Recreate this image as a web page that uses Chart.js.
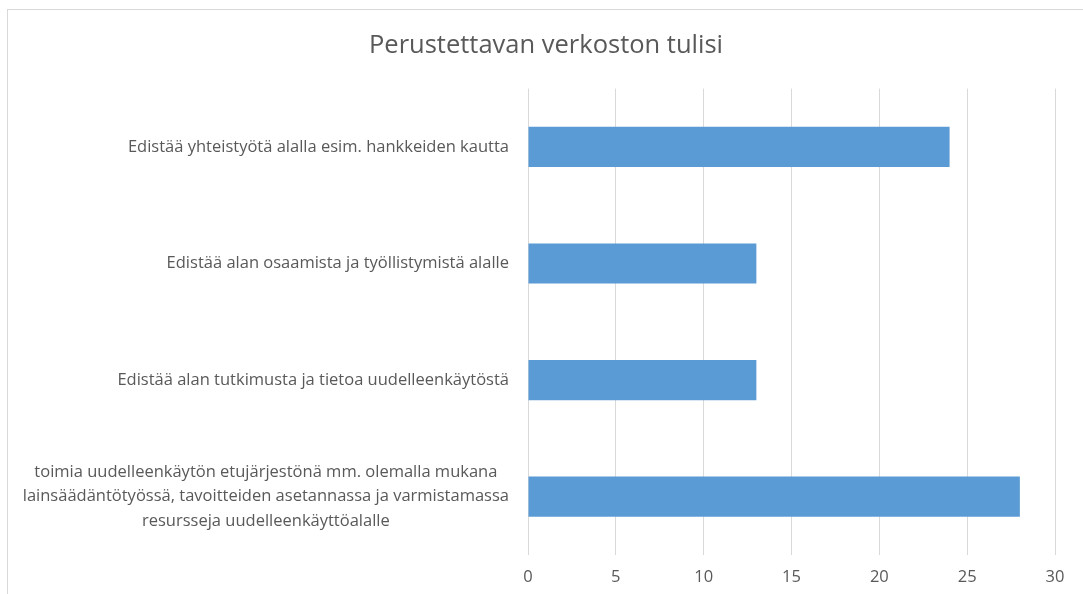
<!DOCTYPE html>
<html>
<head>
<meta charset="utf-8">
<script src="https://cdn.jsdelivr.net/npm/chart.js@4"></script>
<style>
  body { margin: 0; background: #fff; overflow: hidden; }
  #frame { position: absolute; left: 7px; top: 9px; width: 1100px; height: 600px; border: 1px solid #d9d9d9; }
  #wrap { position: absolute; left: 0; top: 0; width: 1083px; height: 594px; }
</style>
</head>
<body>
<div id="frame"></div>
<div id="wrap"><canvas id="chart"></canvas></div>
<script>
const titleText = "Perustettavan verkoston tulisi";
const categories = [
  ["Edistää yhteistyötä alalla esim. hankkeiden kautta"],
  ["Edistää alan osaamista ja työllistymistä alalle"],
  ["Edistää alan tutkimusta ja tietoa uudelleenkäytöstä"],
  ["toimia uudelleenkäytön etujärjestönä mm. olemalla mukana",
   "lainsäädäntötyössä, tavoitteiden asetannassa ja varmistamassa",
   "resursseja uudelleenkäyttöalalle"],
];
const values = [24, 13, 13, 28];
const xMin = 0;
const xMax = 30;
const xStep = 5;

const textColor = "#595959";
const fontFamily = "'Open Sans', sans-serif";

// draws the category labels: block right-aligned, lines centered inside it
const categoryLabels = {
  id: "categoryLabels",
  afterDraw(chart) {
    const ctx = chart.ctx;
    const yScale = chart.scales.y;
    const right = chart.chartArea.left - 19;
    ctx.save();
    ctx.font = "16.5px " + fontFamily;
    ctx.fillStyle = textColor;
    ctx.textAlign = "center";
    ctx.textBaseline = "middle";
    const lineH = 24.5;
    categories.forEach((lines, i) => {
      const y = yScale.getPixelForTick(i);
      const maxW = Math.max(...lines.map((l) => ctx.measureText(l).width));
      const cx = right - maxW / 2;
      const y0 = y - ((lines.length - 1) * lineH) / 2;
      lines.forEach((l, k) => ctx.fillText(l, cx, y0 + k * lineH));
    });
    ctx.restore();
  },
};

const ctx = document.getElementById("chart").getContext("2d");
new Chart(ctx, {
  type: "bar",
  data: {
    labels: categories,
    datasets: [
      {
        data: values,
        backgroundColor: "#5b9bd5",
        borderWidth: 0,
        categoryPercentage: 1,
        barPercentage: 0.345,
      },
    ],
  },
  options: {
    indexAxis: "y",
    responsive: true,
    maintainAspectRatio: false,
    animation: false,
    layout: { padding: { left: 37, right: 28, top: 0, bottom: 0 } },
    plugins: {
      legend: { display: false },
      tooltip: { enabled: false },
      title: {
        display: true,
        text: titleText,
        color: textColor,
        font: { family: fontFamily, size: 25.5, weight: "normal" },
        padding: { top: 30, bottom: 28 },
      },
    },
    scales: {
      x: {
        min: xMin,
        max: xMax,
        ticks: {
          stepSize: xStep,
          color: textColor,
          font: { family: fontFamily, size: 16.5 },
          padding: 12,
        },
        grid: { color: "#d9d9d9", lineWidth: 1, drawTicks: false },
        border: { display: false },
        afterFit(scale) { scale.height = 39; },
      },
      y: {
        ticks: { display: false },
        grid: { display: false },
        border: { display: false },
        afterFit(scale) { scale.width = 491; },
      },
    },
  },
  plugins: [categoryLabels],
});
</script>
</body>
</html>
